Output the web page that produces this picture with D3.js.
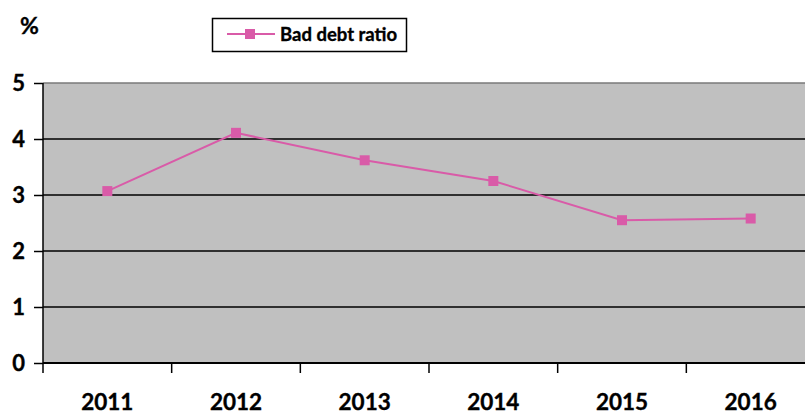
<!DOCTYPE html>
<html>
<head>
<meta charset="utf-8">
<script src="https://cdn.jsdelivr.net/npm/d3@7"></script>
<style>
  html, body { margin: 0; padding: 0; background: #fff; overflow: hidden; }
  svg { display: block; }
  text { font-family: Lato, "Open Sans", sans-serif; font-weight: bold; fill: #000; stroke: #000; stroke-width: 0.35px; }
</style>
</head>
<body>
<svg id="chart" width="805" height="415"></svg>
<script>
// Bad debt ratio by year, in percent
const years = ["2011", "2012", "2013", "2014", "2015", "2016"];
const badDebtRatio = [3.07, 4.11, 3.62, 3.25, 2.55, 2.58];
const yTicks = [0, 1, 2, 3, 4, 5];
const seriesName = "Bad debt ratio";

const W = 805, H = 415;
const plot = { left: 43, right: 815, top: 83, bottom: 363 };
const pink = "#d95ba8";

const svg = d3.select("#chart");

const x = d3.scaleBand().domain(years).range([plot.left, plot.right]);
const y = d3.scaleLinear().domain([0, 5]).range([plot.bottom, plot.top]);

// plot background
svg.append("rect")
  .attr("x", plot.left).attr("y", plot.top)
  .attr("width", plot.right - plot.left).attr("height", plot.bottom - plot.top)
  .attr("fill", "#c0c0c0");

// horizontal gridlines; the top one doubles as the plot border
svg.append("g").selectAll("line")
  .data(yTicks.filter(d => d > 0))
  .join("line")
  .attr("x1", plot.left).attr("x2", plot.right)
  .attr("y1", d => y(d)).attr("y2", d => y(d))
  .attr("stroke", d => d === 5 ? "#7a7a7a" : "#000")
  .attr("stroke-width", 1.5);

// y axis
const yAxis = svg.append("g")
  .attr("transform", `translate(${plot.left},0)`)
  .call(d3.axisLeft(y).tickValues(yTicks).tickFormat(d3.format("d")).tickSize(9).tickPadding(9));
yAxis.select(".domain").attr("d", `M0,${plot.top}V${plot.bottom + 10}`).attr("stroke", "#000").attr("stroke-width", 1.5);
yAxis.selectAll(".tick line").attr("stroke", "#000").attr("stroke-width", 1.5);
yAxis.selectAll(".tick text")
  .attr("font-size", 22)
  .attr("font-family", "Lato, sans-serif")
  .attr("font-weight", "bold")
  .attr("dy", "0.34em");

// x axis, ticks on category boundaries
const xAxisG = svg.append("g").attr("transform", `translate(0,${plot.bottom})`);
xAxisG.append("line")
  .attr("x1", plot.left).attr("x2", plot.right)
  .attr("y1", 0).attr("y2", 0)
  .attr("stroke", "#000").attr("stroke-width", 2);
xAxisG.selectAll("line.tick")
  .data(years.slice(1))
  .join("line")
  .attr("class", "tick")
  .attr("x1", d => x(d)).attr("x2", d => x(d))
  .attr("y1", 0).attr("y2", 10)
  .attr("stroke", "#000").attr("stroke-width", 1.5);
xAxisG.selectAll("text")
  .data(years)
  .join("text")
  .attr("x", d => x(d) + x.bandwidth() / 2)
  .attr("y", 47)
  .attr("text-anchor", "middle")
  .attr("font-size", 22.5)
  .text(d => d);

// series line and square markers
const pts = years.map((yr, i) => [x(yr) + x.bandwidth() / 2, y(badDebtRatio[i])]);
svg.append("path")
  .attr("d", d3.line()(pts))
  .attr("fill", "none")
  .attr("stroke", pink)
  .attr("stroke-width", 2);
svg.append("g").selectAll("rect")
  .data(pts)
  .join("rect")
  .attr("x", d => d[0] - 5).attr("y", d => d[1] - 5)
  .attr("width", 10).attr("height", 10)
  .attr("fill", pink);

// unit label
svg.append("text")
  .attr("x", 20).attr("y", 34)
  .attr("font-size", 23)
  .text("%");

// legend
const lg = svg.append("g");
lg.append("rect")
  .attr("x", 212.5).attr("y", 18.5)
  .attr("width", 194).attr("height", 33)
  .attr("fill", "#fff").attr("stroke", "#000").attr("stroke-width", 1.5);
lg.append("line")
  .attr("x1", 227).attr("x2", 275).attr("y1", 34).attr("y2", 34)
  .attr("stroke", pink).attr("stroke-width", 2);
lg.append("rect")
  .attr("x", 245).attr("y", 29).attr("width", 10).attr("height", 10)
  .attr("fill", pink);
lg.append("text")
  .attr("x", 280).attr("y", 40.5)
  .attr("font-size", 18.5)
  .text(seriesName);
</script>
</body>
</html>
